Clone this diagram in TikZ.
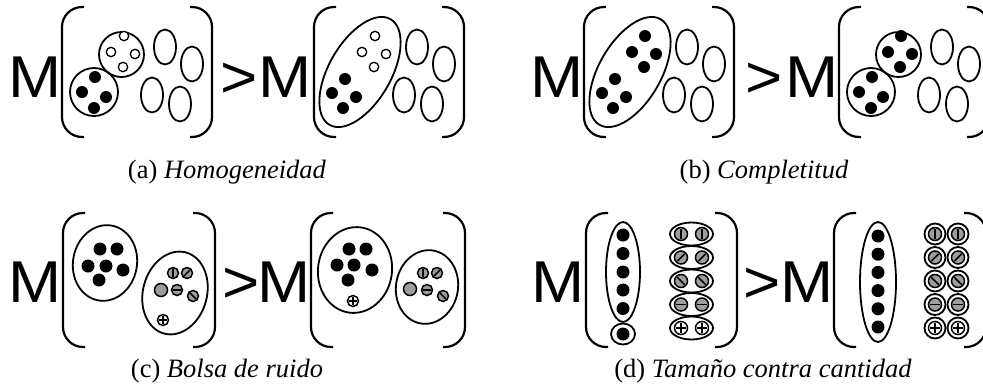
\documentclass[tikz,border=0pt]{standalone}
\usepackage{fontspec}
\setmainfont{Liberation Serif}
\newfontfamily\bigsans[FakeStretch=1.08]{Liberation Sans}
\colorlet{noise}{black!38}
\tikzset{
  bracket/.style={line width=2.2pt, rounded corners=20pt},
  group/.style={line width=1.8pt},
  hollowdot/.style={draw, line width=1.3pt, fill=white},
  noisedot/.style={draw, line width=1.5pt, fill=noise},
  plusdot/.style={draw, line width=1.5pt, fill=white},
  barline/.style={line width=1.5pt},
  letter/.style={inner sep=0pt, anchor=base, font=\bigsans\fontsize{59}{59}\selectfont},
  caption/.style={inner sep=0pt, anchor=base, font=\fontsize{26.5}{30}\selectfont}
}
% #1 left x, #2 right x, #3 top y, #4 bottom y
\newcommand{\brackets}[4]{%
  \draw[bracket] (#1+22,#3) -- (#1,#3) -- (#1,#4) -- (#1+22,#4);
  \draw[bracket] (#2-22,#3) -- (#2,#3) -- (#2,#4) -- (#2-22,#4);
}
% the four empty clusters, shifted by #1
\newcommand{\eggs}[1]{%
  \foreach \ex/\ey in {165/47,192/64,152/95,180/104}
    \draw[group] (\ex+#1,\ey) ellipse [x radius=11, y radius=17.5];
}
% [radius] x, y, angle of the bar
\newcommand{\noisesym}[4][5.5]{%
  \draw[noisedot] (#2,#3) circle (#1);
  \draw[barline] (#2,#3) ++(#4:0.8*#1) -- ++(#4+180:1.6*#1);
}
\newcommand{\plussym}[3][5.5]{%
  \draw[plusdot] (#2,#3) circle (#1);
  \draw[barline] (#2,#3) ++(-0.8*#1,0) -- ++(1.6*#1,0)
    (#2,#3) ++(0,-0.8*#1) -- ++(0,1.6*#1);
}
\begin{document}
\begin{tikzpicture}[x=1pt, y=-1pt]
  \useasboundingbox (0,0) rectangle (983,389);

  % (a) left
  \node[letter] (mA) at (35.5,97) {M};
  \brackets{62}{212}{7}{137}
  \eggs{0}
  \draw[group] (94,92) circle (24);
  \foreach \px/\py in {95/77,82/92,106/97,94/108} \fill (\px,\py) circle (6);
  \draw[group] (121.5,54.5) circle (22.5);
  \foreach \px/\py in {124/36,111/52,135/54,123/67} \draw[hollowdot] (\px,\py) circle (4.7);
  \node[letter] (gtA) at (239,97) {>};
  % (a) right
  \node[letter] (mB) at (285,97) {M};
  \brackets{314}{464}{7}{137}
  \eggs{252}
  \draw[group, rotate around={60:(360,72)}] (360,72) ellipse [x radius=61, y radius=31];
  \foreach \px/\py in {375/36,362/52,386/54,374/67} \draw[hollowdot] (\px,\py) circle (4.7);
  \foreach \px/\py in {345/79,332/93,356/97,343/108} \fill (\px,\py) circle (6);
  \node[caption] (capA) at (227,178) {(a) \textit{Homogeneidad}};

  % (b) left
  \node[letter] (mC) at (557.5,97) {M};
  \brackets{584}{734}{7}{137}
  \eggs{522}
  \draw[group, rotate around={60:(630,72)}] (630,72) ellipse [x radius=61, y radius=31];
  \foreach \px/\py in {645/36,632/52,656/54,644/67,615/79,602/93,626/97,613/108}
    \fill (\px,\py) circle (6);
  \node[letter] (gtB) at (764.5,97) {>};
  % (b) right
  \node[letter] (mD) at (812.5,97) {M};
  \brackets{839}{989}{7}{137}
  \eggs{777}
  \draw[group] (871,92) circle (24);
  \draw[group] (898.5,54.5) circle (22.5);
  \foreach \px/\py in {872/77,859/92,883/97,871/108,901/36,888/52,912/54,900/67}
    \fill (\px,\py) circle (6);
  \node[caption] (capB) at (764,178) {(b) \textit{Completitud}};

  % (c) left
  \node[letter] (mE) at (35.5,302) {M};
  \brackets{63}{215}{213}{347}
  \draw[group, rotate around={-10:(105,263)}] (105,263) ellipse [x radius=32, y radius=38];
  \foreach \px/\py in {100/249,117/249,88/266,106/266,123/270,99/280} \fill (\px,\py) circle (6.5);
  \draw[group, rotate around={-15:(175,293)}] (175,293) ellipse [x radius=32, y radius=42];
  \noisesym{173}{273}{90}
  \noisesym{187}{273}{-45}
  \draw[noisedot] (161,290) circle (6.5);
  \noisesym{177}{290}{0}
  \noisesym{193}{296}{45}
  \plussym{163}{320}
  \node[letter] (gtC) at (241,302) {>};
  % (c) right
  \node[letter] (mF) at (284.5,302) {M};
  \brackets{311}{465}{213}{347}
  \draw[group, rotate around={-8:(355,270)}] (355,270) ellipse [x radius=37, y radius=43];
  \foreach \px/\py in {349/249,366/249,337/265,354/265,372/270,348/280} \fill (\px,\py) circle (6.5);
  \plussym{353}{301}
  \draw[group, rotate around={-10:(427,287)}] (427,287) ellipse [x radius=31, y radius=37];
  \noisesym{423}{273}{90}
  \noisesym{437}{273}{-45}
  \draw[noisedot] (410,289) circle (6.5);
  \noisesym{427}{290}{0}
  \noisesym{443}{296}{45}
  \node[caption] (capC) at (227,377) {(c) \textit{Bolsa de ruido}};

  % (d) left
  \node[letter] (mG) at (558.5,302) {M};
  \brackets{586}{737}{213}{347}
  \draw[group] (623,272) ellipse [x radius=17, y radius=50];
  \foreach \py in {235,253.5,272,290,308.5} \fill (623,\py) circle (6.5);
  \draw[group] (623,334) ellipse [x radius=12, y radius=10.5];
  \fill (623,334) circle (6.5);
  \foreach \py/\ang in {234/90,257.5/-45,281/45,304.5/0} {
    \draw[group] (691.5,\py) ellipse [x radius=21.5, y radius=11.5];
    \noisesym[6.5]{681}{\py}{\ang}
    \noisesym[6.5]{702}{\py}{\ang}
  }
  \draw[group] (691.5,328) ellipse [x radius=21.5, y radius=11.5];
  \plussym[6.5]{681}{328}
  \plussym[6.5]{702}{328}
  \node[letter] (gtD) at (762.5,302) {>};
  % (d) right
  \node[letter] (mH) at (807.5,302) {M};
  \brackets{834}{986}{213}{347}
  \draw[group] (878,282) ellipse [x radius=18, y radius=60];
  \foreach \py in {236,254.2,272.4,290.6,308.8,327} \fill (878,\py) circle (6.5);
  \foreach \px in {935,958} {
    \foreach \py/\ang in {234/90,257.5/-45,281/45,304.5/0} {
      \draw[group] (\px,\py) circle (10.5);
      \noisesym[6.5]{\px}{\py}{\ang}
    }
    \draw[group] (\px,328) circle (10.5);
    \plussym[6.5]{\px}{328}
  }
  \node[caption] (capD) at (763,377) {(d) \textit{Tamaño contra cantidad}};
\end{tikzpicture}
\end{document}
